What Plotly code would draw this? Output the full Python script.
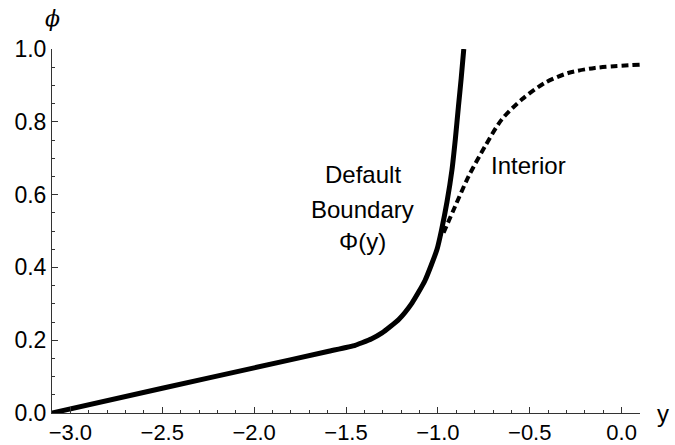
import plotly.graph_objects as go

# Default boundary (solid)
solid_x = [-3.10, -2.50, -2.00, -1.60, -1.45, -1.413, -1.36, -1.304, -1.213, -1.141,
           -1.070, -1.005, -0.980, -0.950, -0.923, -0.905, -0.888, -0.873, -0.859]
solid_y = [0.000, 0.068, 0.124, 0.169, 0.186, 0.193, 0.204, 0.220, 0.257, 0.302,
           0.364, 0.449, 0.503, 0.581, 0.669, 0.752, 0.843, 0.920, 1.000]

# Interior (dashed)
dash_x = [-0.969, -0.906, -0.833, -0.743, -0.653, -0.544, -0.418, -0.291, -0.146, 0.098]
dash_y = [0.495, 0.568, 0.650, 0.733, 0.806, 0.861, 0.907, 0.934, 0.948, 0.957]

x_ticks = [-3.0, -2.5, -2.0, -1.5, -1.0, -0.5, 0.0]
y_ticks = [0.0, 0.2, 0.4, 0.6, 0.8, 1.0]

boundary_lines = ["Default", "Boundary", "Φ(y)"]
boundary_pos = [(-1.409, 0.655), (-1.409, 0.560), (-1.409, 0.470)]
interior_label = "Interior"
interior_pos = (-0.508, 0.680)

FONT = "Liberation Sans, Arial, sans-serif"

fig = go.Figure()
fig.add_trace(go.Scatter(x=solid_x, y=solid_y, mode="lines",
                         line=dict(color="black", width=5, shape="spline", smoothing=0.5),
                         showlegend=False))
fig.add_trace(go.Scatter(x=dash_x, y=dash_y, mode="lines",
                         line=dict(color="black", width=4, dash="7px,4px", shape="spline", smoothing=0.8),
                         showlegend=False))

for txt, (ax, ay) in zip(boundary_lines, boundary_pos):
    fig.add_annotation(x=ax, y=ay, xref="x", yref="y", text=txt, showarrow=False,
                       xanchor="center", yanchor="middle",
                       font=dict(family=FONT, size=24, color="black"))
fig.add_annotation(x=interior_pos[0], y=interior_pos[1], xref="x", yref="y",
                   text=interior_label, showarrow=False, xanchor="center", yanchor="middle",
                   font=dict(family=FONT, size=24, color="black"))

# axis labels
fig.add_annotation(x=0.0, y=1.085, xref="paper", yref="paper", text="<i>ϕ</i>",
                   showarrow=False, xanchor="center", yanchor="middle",
                   font=dict(family="DejaVu Serif", size=22, color="black"))
fig.add_annotation(x=1.039, y=0.0, xref="paper", yref="paper", text="y",
                   showarrow=False, xanchor="center", yanchor="middle",
                   font=dict(family=FONT, size=24, color="black"))

axis_common = dict(showgrid=False, zeroline=False, showline=True, linecolor="#333",
                   linewidth=1, ticks="inside", tickcolor="#333", tickwidth=1, ticklen=6,
                   tickformat=".1f", automargin=False)

fig.update_xaxes(range=[-3.1, 0.1], tickvals=x_ticks,
                 tickfont=dict(family=FONT, size=22, color="black"),
                 minor=dict(dtick=0.1, tick0=0, ticks="inside", ticklen=3, tickcolor="#333"),
                 **axis_common)
fig.update_yaxes(range=[0, 1.0], tickvals=y_ticks,
                 tickfont=dict(family=FONT, size=23, color="black"),
                 minor=dict(dtick=0.05, tick0=0, ticks="inside", ticklen=3, tickcolor="#333"),
                 **axis_common)

fig.update_layout(width=675, height=445, margin=dict(l=52, r=35, t=49, b=32),
                  plot_bgcolor="white", paper_bgcolor="white",
                  font=dict(family=FONT, color="black"))

fig.write_html("out.html", config={"displayModeBar": False},
               post_script="document.body.style.margin='0px';")
